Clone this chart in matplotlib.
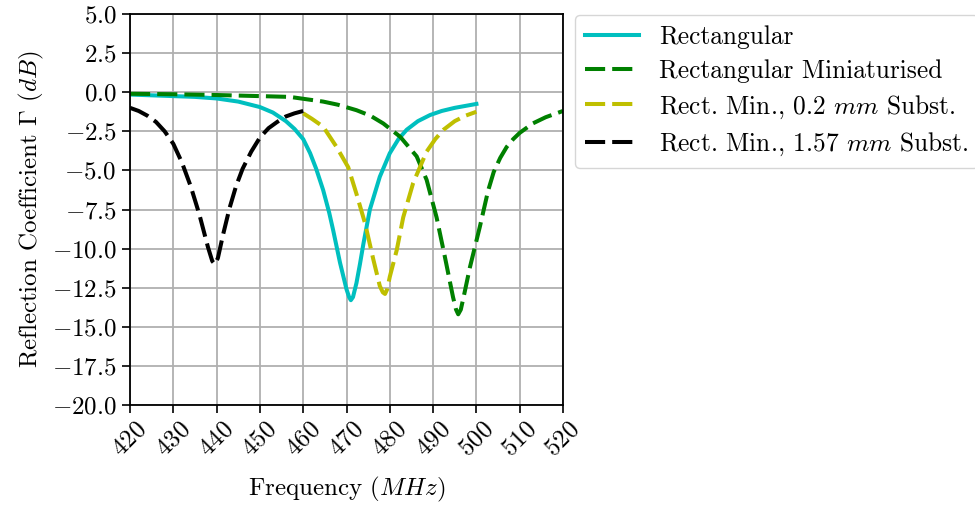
import matplotlib
matplotlib.use("Agg")
import matplotlib.pyplot as plt
from matplotlib.ticker import FormatStrFormatter

# Rectangular patch antenna
freq_rect = [420, 425, 430, 435, 440, 445, 450, 453, 456, 458, 460, 461.6, 463, 464.6,
             466, 466.9, 468.5, 470, 470.6, 471, 471.5, 472.3, 473.1, 473.9, 475.4,
             477.7, 480, 482, 483.9, 486.5, 489.3, 492, 495, 500]
s11_rect = [-0.15, -0.2, -0.25, -0.3, -0.4, -0.6, -0.95, -1.3, -1.85, -2.35, -3.0, -3.9,
            -4.9, -6.25, -7.7, -8.8, -10.9, -12.6, -13.1, -13.3, -13.1, -12.2, -11.0,
            -9.7, -7.5, -5.4, -3.9, -3.0, -2.4, -1.85, -1.46, -1.2, -1.0, -0.75]

# Rectangular miniaturised patch
freq_mini = [420, 430, 440, 450, 456.9, 464.6, 468, 472.3, 475.5, 478.5, 482.4, 486.2,
             488.5, 490.8, 492.7, 494.6, 495.3, 495.8, 496.4, 497.2, 498.5, 500.8,
             502.7, 504, 505.5, 507, 508.5, 510, 513, 516, 520]
s11_mini = [-0.1, -0.13, -0.18, -0.25, -0.3, -0.6, -0.8, -1.15, -1.5, -2.0, -2.85, -4.1,
            -5.6, -8.0, -10.5, -13.1, -13.9, -14.2, -13.9, -12.9, -11.2, -8.6, -6.3,
            -5.1, -4.2, -3.5, -3.0, -2.6, -2.0, -1.6, -1.2]

# Miniaturised patch on 0.2 mm substrate
freq_02 = [460, 462, 464.6, 467.7, 470.4, 472.3, 474.3, 476.2, 477.7, 478.4, 478.9,
           479.4, 480, 481.6, 483.1, 485.4, 488.5, 490.5, 492.4, 495, 497.5, 500]
s11_02 = [-1.35, -1.7, -2.2, -3.5, -4.8, -6.5, -8.4, -10.7, -12.4, -12.8, -12.9, -12.6,
          -11.8, -10.1, -8.0, -5.8, -3.8, -3.0, -2.4, -1.85, -1.5, -1.25]

# Miniaturised patch on 1.57 mm substrate
freq_157 = [420, 422, 424, 426, 428, 430, 432, 434, 436, 438, 439, 439.6, 440.3, 441.5,
            443, 444.5, 446, 448, 450, 452, 454, 456, 458, 460]
s11_157 = [-1.0, -1.2, -1.5, -1.9, -2.5, -3.3, -4.5, -6.0, -7.8, -9.9, -10.8, -11.0,
           -10.6, -9.1, -7.4, -6.0, -4.9, -3.8, -2.9, -2.3, -1.9, -1.55, -1.35, -1.2]

labels = ["Rectangular", "Rectangular Miniaturised",
          r"Rect. Min., 0.2 $mm$ Subst.", r"Rect. Min., 1.57 $mm$ Subst."]

plt.rcParams.update({
    "font.family": "cmr10",
    "mathtext.fontset": "cm",
    "axes.formatter.use_mathtext": True,
    "font.size": 18,
    "axes.unicode_minus": True,
})

fig = plt.figure(figsize=(9.75, 5.05), dpi=100)
ax = fig.add_axes([130 / 975, 1 - 405 / 505, (563 - 130) / 975, (405 - 14) / 505])

lw = 2.9
dash = (5, 1.75)
ax.plot(freq_rect, s11_rect, color="c", lw=lw, label=labels[0])
ax.plot(freq_mini, s11_mini, color="g", lw=lw, dashes=dash, label=labels[1])
ax.plot(freq_02, s11_02, color="y", lw=lw, dashes=dash, label=labels[2])
ax.plot(freq_157, s11_157, color="k", lw=lw, dashes=dash, label=labels[3])

ax.set_xlim(420, 520)
ax.set_ylim(-20, 5)
ax.set_xticks(range(420, 521, 10))
ax.set_yticks([5 - 2.5 * i for i in range(11)])
ax.yaxis.set_major_formatter(FormatStrFormatter(r"$%.1f$"))
ax.xaxis.set_major_formatter(FormatStrFormatter(r"$\mathdefault{%d}$"))
for t in ax.get_xticklabels():
    t.set_rotation(45)
ax.tick_params(length=6, width=1.2)
ax.grid(True, color="#b0b0b0", lw=1.3)
for sp in ax.spines.values():
    sp.set_linewidth(1.3)

ax.set_xlabel(r"Frequency $(MHz)$", labelpad=10)
ax.set_ylabel(r"Reflection Coefficient $\Gamma$ $(dB)$")

ax.legend(loc="upper left", bbox_to_anchor=(1.028, 0.997), borderaxespad=0,
          fontsize=18.3, handlelength=2.1, labelspacing=0.4)

fig.savefig("out.png", dpi=100)
